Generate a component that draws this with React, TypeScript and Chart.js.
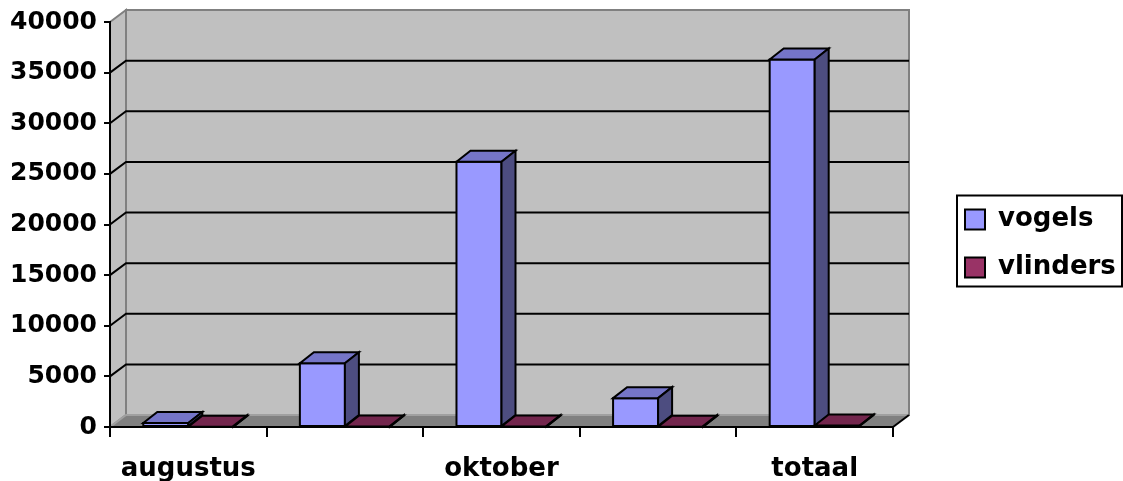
import React, { useEffect, useRef } from 'react';
import { Chart, registerables } from 'chart.js';

Chart.register(...registerables);

// ---- data ----
const categories = ['augustus', 'september', 'oktober', 'november', 'totaal'];
const shownLabels = ['augustus', 'oktober', 'totaal'];
const vogels = [400, 6300, 26200, 2850, 36300];
const vlinders = [20, 40, 60, 20, 140];
const yTicks = [0, 5000, 10000, 15000, 20000, 25000, 30000, 35000, 40000];
const seriesNames = ['vogels', 'vlinders'];

// ---- styles ----
const frontColors = ['#9999FF', '#993366'];
const topColors = ['#7575C8', '#73264D'];
const sideColors = ['#4D4D80', '#4D1A33'];
const WALL = '#C0C0C0';
const FLOOR = '#808080';
const EDGE = '#808080';
const FONT = "'DejaVu Sans', sans-serif";
const DX = 16, DY = -12; // wall depth
const BDX = 14, BDY = -11; // bar depth

const poly = (ctx: CanvasRenderingContext2D, pts: number[][]) => {
  ctx.beginPath();
  ctx.moveTo(pts[0][0], pts[0][1]);
  for (let i = 1; i < pts.length; i++) ctx.lineTo(pts[i][0], pts[i][1]);
  ctx.closePath();
};

const threeD = {
  id: 'threeD',
  beforeDraw(chart: any) {
    const { ctx, chartArea: a, scales } = chart;
    const ys = scales.y;
    const L = a.left, R = a.right, T = a.top, B = a.bottom;
    ctx.save();
    ctx.fillStyle = WALL;
    ctx.fillRect(L + DX, T + DY, R - L, B - T);
    poly(ctx, [[L, T], [L + DX, T + DY], [L + DX, B + DY], [L, B]]);
    ctx.fill();
    ctx.fillStyle = FLOOR;
    poly(ctx, [[L, B], [L + DX, B + DY], [R + DX, B + DY], [R, B]]);
    ctx.fill();
    ctx.strokeStyle = EDGE;
    ctx.lineWidth = 2;
    ctx.strokeRect(L + DX, T + DY, R - L, B - T);
    poly(ctx, [[L, T], [L + DX, T + DY], [L + DX, B + DY], [L, B]]);
    ctx.stroke();
    ctx.strokeStyle = '#A0A0A0';
    ctx.beginPath();
    ctx.moveTo(L, B); ctx.lineTo(L + DX, B + DY); ctx.lineTo(R + DX, B + DY);
    ctx.stroke();
    ctx.strokeStyle = '#000';
    ctx.lineWidth = 2;
    yTicks.forEach((v, i) => {
      if (i === 0 || i === yTicks.length - 1) return;
      const yy = ys.getPixelForValue(v);
      ctx.beginPath();
      ctx.moveTo(L, yy);
      ctx.lineTo(L + DX, yy + DY);
      ctx.lineTo(R + DX, yy + DY);
      ctx.stroke();
    });
    ctx.beginPath();
    ctx.moveTo(R, B);
    ctx.lineTo(R + DX, B + DY);
    ctx.stroke();
    ctx.restore();
  },
  beforeDatasetDraw() {
    return false;
  },
  afterDatasetsDraw(chart: any) {
    const { ctx } = chart;
    const n = chart.data.labels.length;
    ctx.save();
    ctx.strokeStyle = '#000';
    ctx.lineWidth = 2;
    ctx.lineJoin = 'miter';
    for (let i = 0; i < n; i++) {
      for (let d = 0; d < chart.data.datasets.length; d++) {
        const el = chart.getDatasetMeta(d).data[i];
        if (!el) continue;
        const { x, y, base, width } = el.getProps(['x', 'y', 'base', 'width'], true);
        const l = x - width / 2, r = x + width / 2;
        ctx.fillStyle = frontColors[d];
        poly(ctx, [[l, y], [r, y], [r, base], [l, base]]);
        ctx.fill(); ctx.stroke();
        ctx.fillStyle = topColors[d];
        poly(ctx, [[l, y], [l + BDX, y + BDY], [r + BDX, y + BDY], [r, y]]);
        ctx.fill(); ctx.stroke();
        ctx.fillStyle = sideColors[d];
        poly(ctx, [[r, y], [r + BDX, y + BDY], [r + BDX, base + BDY], [r, base]]);
        ctx.fill(); ctx.stroke();
      }
    }
    ctx.restore();
  },
  afterDraw(chart: any) {
    const lg = chart.legend;
    if (!lg || !lg.legendHitBoxes || lg.legendHitBoxes.length < 2) return;
    const hb = lg.legendHitBoxes;
    const { ctx } = chart;
    const left = hb[0].left - 8;
    const top = hb[0].top - 11;
    const bottom = hb[hb.length - 1].top + hb[hb.length - 1].height + 6;
    const right = chart.width - 1;
    ctx.save();
    ctx.strokeStyle = '#000';
    ctx.lineWidth = 2;
    ctx.strokeRect(left, top, right - left, bottom - top);
    ctx.restore();
  },
};

export default function App() {
  const ref = useRef<HTMLCanvasElement | null>(null);
  useEffect(() => {
    if (!ref.current) return;
    const chart = new Chart(ref.current, {
      type: 'bar',
      data: {
        labels: categories,
        datasets: [
          {
            label: seriesNames[0],
            data: vogels,
            backgroundColor: frontColors[0],
            borderColor: '#000',
            borderWidth: 2,
            categoryPercentage: 0.575,
            barPercentage: 1,
          },
          {
            label: seriesNames[1],
            data: vlinders,
            backgroundColor: frontColors[1],
            borderColor: '#000',
            borderWidth: 2,
            categoryPercentage: 0.575,
            barPercentage: 1,
          },
        ],
      },
      options: {
        responsive: false,
        animation: false,
        layout: { padding: { top: 22, bottom: 0, left: 0, right: 0 } },
        plugins: {
          tooltip: { enabled: false },
          legend: {
            position: 'right',
            fullSize: false,
            maxWidth: 180,
            title: { display: true, text: '', font: { size: 10 }, padding: { top: 26, bottom: 0 } },
            labels: {
              boxWidth: 20,
              boxHeight: 20,
              padding: 22,
              color: '#000',
              font: { family: FONT, size: 26, weight: 'bold' },
            },
          },
        },
        scales: {
          x: {
            offset: true,
            grid: { offset: true, drawOnChartArea: false, drawTicks: true, tickLength: 10, color: '#000', lineWidth: 2 },
            border: { display: true, color: '#000', width: 2 },
            ticks: {
              autoSkip: false,
              maxRotation: 0,
              padding: 17,
              color: '#000',
              font: { family: FONT, size: 26, weight: 'bold' },
              callback: (_v: any, i: number) => (shownLabels.includes(categories[i]) ? categories[i] : ''),
            },
            afterFit: (s: any) => { s.height = 54; },
          },
          y: {
            min: yTicks[0],
            max: yTicks[yTicks.length - 1],
            grid: { drawOnChartArea: false, drawTicks: true, tickLength: 6, color: '#000', lineWidth: 2 },
            border: { display: true, color: '#000', width: 2 },
            ticks: {
              stepSize: yTicks[1] - yTicks[0],
              padding: 7,
              color: '#000',
              font: { family: FONT, size: 25, weight: 'bold' },
              callback: (v: any) => String(v),
            },
            afterFit: (s: any) => { s.width = 110; },
          },
          y2: {
            position: 'right',
            min: 0,
            max: 1,
            ticks: { display: false },
            grid: { display: false },
            border: { display: false },
            afterFit: (s: any) => { s.width = 50; },
          },
        },
      },
      plugins: [threeD],
    } as any);
    return () => chart.destroy();
  }, []);
  return (
    <div style={{ position: 'absolute', left: 0, top: 0, width: 1123, height: 481, background: '#fff' }}>
      <canvas ref={ref} width={1123} height={481} style={{ display: 'block' }} />
    </div>
  );
}
